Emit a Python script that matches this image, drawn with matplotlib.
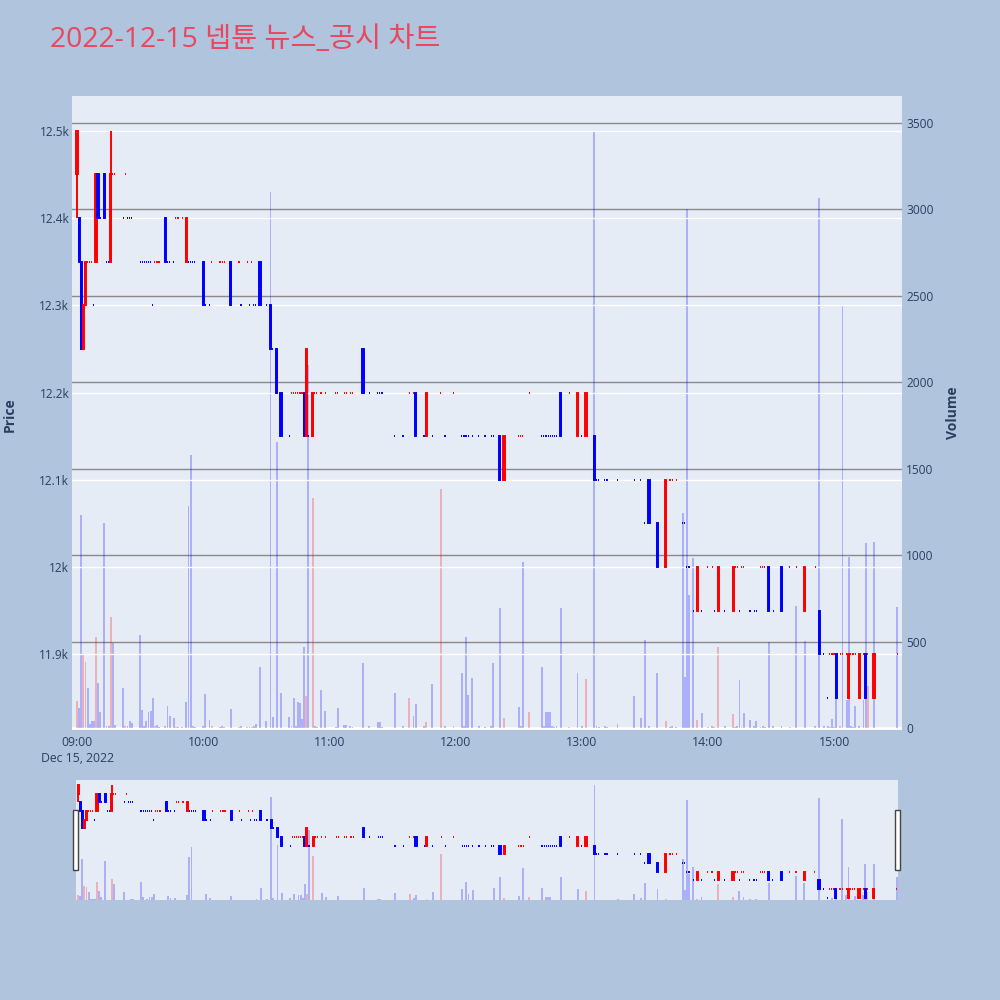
import matplotlib
matplotlib.use("Agg")
import matplotlib.pyplot as plt
from matplotlib.patches import Rectangle

plt.rcParams['font.family'] = ['Open Sans', 'Noto Sans CJK KR', 'DejaVu Sans']

# ---------------- data ----------------
title = "2022-12-15 넵튠 뉴스_공시 차트"
date_label = "Dec 15, 2022"
hour_offsets = [0, 60, 120, 180, 240, 300, 360]          # minutes after 09:00
hour_labels = ["09:00", "10:00", "11:00", "12:00", "13:00", "14:00", "15:00"]
price_ticks = [11900, 12000, 12100, 12200, 12300, 12400, 12500]
price_tick_labels = ["11.9k", "12k", "12.1k", "12.2k", "12.3k", "12.4k", "12.5k"]
volume_ticks = [0, 500, 1000, 1500, 2000, 2500, 3000, 3500]

# minute of trade (minutes after 09:00)
minutes = (
    [0, 1, 2, 3, 4, 5, 6, 7, 8, 9, 10, 11, 13, 14, 15, 16, 17, 18, 22, 23, 24, 25, 26,
     30, 31, 32, 33, 34, 35, 36, 37, 38, 39, 42, 43, 44, 46, 47, 48, 50, 52, 53, 54, 55, 56]
    + [60, 61, 63, 64, 68, 69, 70, 73, 77, 78, 81, 82, 83, 84, 85, 87, 90, 92, 93, 95, 97,
       101, 102, 103, 104, 105, 106, 107, 108, 109, 110, 112, 113, 114, 116, 118]
    + [123, 124, 127, 128, 130, 131, 136, 139, 143, 144, 145, 151, 155, 158, 160, 161, 165,
       166, 169, 173, 175, 179]
    + [183, 184, 185, 186, 188, 191, 194, 197, 198, 201, 203, 210, 211, 212, 215, 221, 222,
       223, 224, 225, 226, 227, 228, 230, 234, 238]
    + [240, 242, 246, 247, 248, 251, 252, 257, 265, 268, 270, 272, 276, 280, 282, 283, 285,
       288, 289, 290, 291, 293, 295, 297]
    + [300, 302, 303, 305, 308, 312, 313, 314, 315, 316, 317, 320, 322, 323, 325, 326, 327,
       329, 331, 335, 339, 342, 346, 351, 353, 355, 357, 358, 359]
    + [360, 361, 363, 364, 366, 367, 368, 369, 370, 372, 374, 375, 376, 379, 390]
)

opens = (
    [12450, 12400, 12350, 12250, 12300, 12350, 12350, 12350, 12300, 12350, 12450, 12400,
     12450, 12350, 12350, 12350, 12450, 12450, 12400, 12450, 12400, 12400, 12400,
     12350, 12350, 12350, 12350, 12350, 12350, 12300, 12350, 12350, 12350, 12400, 12350,
     12350, 12350, 12400, 12400, 12400, 12350, 12350, 12350, 12350, 12350]
    + [12350, 12300, 12300, 12350, 12350, 12350, 12350, 12350, 12350, 12300, 12350, 12300,
       12350, 12300, 12300, 12350, 12300, 12300, 12250, 12250, 12200,
       12150, 12200, 12200, 12200, 12200, 12200, 12200, 12200, 12150, 12150, 12150, 12200,
       12200, 12200, 12200]
    + [12200, 12200, 12200, 12200, 12200, 12200, 12250, 12200, 12200, 12200, 12200, 12150,
       12150, 12200, 12200, 12200, 12150, 12150, 12150, 12200, 12150, 12200]
    + [12150, 12150, 12150, 12150, 12150, 12150, 12150, 12150, 12150, 12150, 12100, 12150,
       12150, 12150, 12200, 12150, 12150, 12150, 12150, 12150, 12150, 12150, 12150, 12200,
       12200, 12150]
    + [12150, 12150, 12150, 12100, 12100, 12100, 12100, 12100, 12100, 12100, 12050, 12100,
       12050, 12000, 12100, 12100, 12100, 12050, 12050, 12000, 12000, 11950, 11950, 11950]
    + [12000, 12000, 11950, 11950, 11950, 11950, 12000, 12000, 11950, 12000, 12000, 11950,
       11950, 11950, 12000, 12000, 12000, 12000, 11950, 12000, 12000, 12000, 11950, 12000,
       11950, 11900, 11850, 11900, 11900]
    + [11900, 11900, 11900, 11900, 11900, 11850, 11900, 11900, 11900, 11850, 11900, 11900,
       11900, 11850, 11900]
)

closes = (
    [12500, 12350, 12250, 12300, 12350, 12350, 12350, 12350, 12300, 12450, 12400, 12400,
     12400, 12350, 12350, 12450, 12450, 12450, 12400, 12450, 12400, 12400, 12400,
     12350, 12350, 12350, 12350, 12350, 12350, 12300, 12350, 12350, 12350, 12350, 12350,
     12350, 12350, 12400, 12400, 12400, 12400, 12350, 12350, 12350, 12350]
    + [12300, 12300, 12300, 12350, 12350, 12350, 12350, 12300, 12350, 12300, 12350, 12300,
       12350, 12300, 12300, 12300, 12300, 12250, 12250, 12200, 12150,
       12150, 12200, 12200, 12200, 12200, 12200, 12200, 12150, 12250, 12150, 12200, 12200,
       12200, 12200, 12200]
    + [12200, 12200, 12200, 12200, 12200, 12200, 12200, 12200, 12200, 12200, 12200, 12150,
       12150, 12200, 12200, 12150, 12150, 12200, 12150, 12200, 12150, 12200]
    + [12150, 12150, 12150, 12150, 12150, 12150, 12150, 12150, 12150, 12100, 12150, 12150,
       12150, 12150, 12200, 12150, 12150, 12150, 12150, 12150, 12150, 12150, 12150, 12150,
       12200, 12200]
    + [12150, 12200, 12100, 12100, 12100, 12100, 12100, 12100, 12100, 12100, 12050, 12050,
       12000, 12100, 12100, 12100, 12100, 12050, 12050, 12000, 12000, 11950, 12000, 11950]
    + [12000, 12000, 11950, 12000, 11950, 12000, 12000, 12000, 11950, 12000, 12000, 11950,
       11950, 11950, 12000, 12000, 12000, 11950, 11950, 11950, 12000, 12000, 12000, 12000,
       11900, 11900, 11850, 11900, 11900]
    + [11900, 11850, 11900, 11900, 11900, 11900, 11900, 11900, 11900, 11900, 11900, 11850,
       11900, 11900, 11900]
)

volumes = (
    [156, 114, 1232, 428, 384, 233, 20, 42, 42, 528, 258, 94, 1184, 10, 10, 644, 493, 15,
     229, 12, 10, 42, 31, 538, 104, 10, 42, 94, 100, 172, 10, 15, 8, 10, 127, 71, 58, 8, 5,
     8, 152, 1284, 1579, 10, 8]
    + [10, 195, 48, 10, 8, 12, 8, 108, 8, 10, 8, 5, 8, 10, 23, 355, 38, 3100, 64, 1656, 200,
       61, 10, 172, 10, 148, 144, 53, 470, 187, 2100, 1328, 10, 8, 220, 96]
    + [8, 115, 15, 15, 13, 8, 374, 10, 33, 33, 8, 200, 10, 171, 69, 139, 10, 37, 253, 1380,
       10, 10]
    + [316, 10, 528, 188, 291, 10, 8, 10, 374, 692, 60, 123, 10, 962, 94, 353, 10, 95, 95,
       95, 10, 8, 10, 692, 8, 316]
    + [10, 281, 3450, 10, 8, 10, 8, 23, 187, 60, 509, 10, 320, 40, 8, 10, 8, 1242, 293, 3000,
       769, 981, 45, 87]
    + [8, 10, 8, 470, 10, 83, 8, 10, 277, 8, 87, 44, 10, 40, 8, 10, 8, 499, 10, 10, 8, 706,
       505, 10, 3065, 10, 10, 8, 50]
    + [8, 260, 10, 2440, 162, 991, 10, 8, 127, 10, 160, 1068, 243, 1078, 702]
)

# candles whose wicks reach beyond the body
wick_minutes = [0, 16]
wick_highs = [12500, 12500]
wick_lows = [12400, 12350]

assert len(minutes) == len(opens) == len(closes) == len(volumes), (
    len(minutes), len(opens), len(closes), len(volumes))

# ---------------- derived ----------------
highs = [max(o, c) for o, c in zip(opens, closes)]
lows = [min(o, c) for o, c in zip(opens, closes)]
for m, h, l in zip(wick_minutes, wick_highs, wick_lows):
    i = minutes.index(m)
    highs[i] = h
    lows[i] = l

# plotly-style candle direction: close vs open, ties use previous close / direction
up = []
prev_close, prev_up = None, True
for o, c in zip(opens, closes):
    if c > o:
        d = True
    elif c < o:
        d = False
    elif prev_close is not None and c != prev_close:
        d = c > prev_close
    else:
        d = prev_up
    up.append(d)
    prev_close, prev_up = c, d

# volume colour: red when close rose from the previous close, otherwise blue
vol_up = []
prev_close = None
for o, c in zip(opens, closes):
    ref = o if prev_close is None else prev_close
    vol_up.append(c > ref)
    prev_close = c

RED, BLUE = '#ff0000', '#0000ff'
candle_colors = [RED if d else BLUE for d in up]
vol_colors = [(1, 0, 0, 0.25) if d else (0, 0, 1, 0.25) for d in vol_up]
body_bottoms = [min(o, c) for o, c in zip(opens, closes)]
body_heights = [abs(c - o) for o, c in zip(opens, closes)]

TXT = '#2a3f5f'
BG = '#b0c4de'
PLOT_BG = '#e5ecf6'

fig = plt.figure(figsize=(10, 10), dpi=100, facecolor=BG)


def draw_traces(ax_v, ax_p, lw=1.4):
    ax_v.bar(minutes, volumes, width=0.9, color=vol_colors, linewidth=0, zorder=2)
    ax_p.vlines(minutes, lows, highs, colors=candle_colors, linewidth=lw, zorder=3)
    ax_p.bar(minutes, body_heights, bottom=body_bottoms, width=0.55,
             color=candle_colors, edgecolor=candle_colors, linewidth=lw, zorder=4)


# ---------------- main panel ----------------
ax_v = fig.add_axes([0.072, 0.270, 0.830, 0.634])
ax_v.set_facecolor(PLOT_BG)
ax_p = ax_v.twinx()
ax_p.patch.set_visible(False)

draw_traces(ax_v, ax_p)

ax_v.set_xlim(-2.4, 392.3)
ax_v.set_ylim(-12, 3656)
ax_p.set_ylim(11813, 12540)

ax_v.set_yticks(volume_ticks)
ax_v.set_yticklabels([str(t) for t in volume_ticks])
ax_v.grid(axis='y', color='#8a8a8a', linewidth=1.0)
ax_v.set_axisbelow(True)
ax_v.axhline(0, color='white', linewidth=2, zorder=1)

ax_p.set_yticks(price_ticks)
ax_p.set_yticklabels(price_tick_labels)
ax_p.grid(axis='y', color='white', linewidth=1.0)
ax_p.set_axisbelow(True)

xlabels = list(hour_labels)
xlabels[0] = hour_labels[0] + "\n" + date_label
ax_v.set_xticks(hour_offsets)
ax_v.set_xticklabels(xlabels, linespacing=1.3)

for a in (ax_v, ax_p):
    for s in a.spines.values():
        s.set_visible(False)

ax_v.tick_params(axis='x', length=0, pad=4, labelsize=8.8, labelcolor=TXT)
ax_v.tick_params(axis='y', left=False, labelleft=False, right=False, labelright=True,
                 length=0, pad=3, labelsize=8.6, labelcolor=TXT)
ax_p.tick_params(axis='y', left=False, labelleft=True, right=False, labelright=False,
                 length=0, pad=2, labelsize=8.6, labelcolor=TXT)

# ---------------- range slider ----------------
ax_sv = fig.add_axes([0.076, 0.100, 0.822, 0.120])
ax_sv.set_facecolor(PLOT_BG)
ax_sp = ax_sv.twinx()
ax_sp.patch.set_visible(False)
draw_traces(ax_sv, ax_sp, lw=1.4)
ax_sv.set_xlim(-1.0, 390.6)
ax_sv.set_ylim(0, 3600)
ax_sp.set_ylim(11836, 12529)
for a in (ax_sv, ax_sp):
    a.set_xticks([])
    a.set_yticks([])
    for s in a.spines.values():
        s.set_visible(False)

for hx in (0.0733, 0.8953):
    fig.patches.append(Rectangle((hx, 0.130), 0.0044, 0.060, transform=fig.transFigure,
                                 facecolor='white', edgecolor='#444444', linewidth=1,
                                 zorder=10))

# ---------------- texts ----------------
fig.text(0.050, 0.960, title, fontsize=20.4, color='#e8475f', ha='left', va='center')
fig.text(0.010, 0.585, 'Price', rotation=90, ha='center', va='center',
         fontsize=10, fontweight='bold', color=TXT)
fig.text(0.953, 0.587, 'Volume', rotation=90, ha='center', va='center',
         fontsize=10, fontweight='bold', color=TXT)

fig.savefig('out.png', dpi=100, facecolor=BG)
